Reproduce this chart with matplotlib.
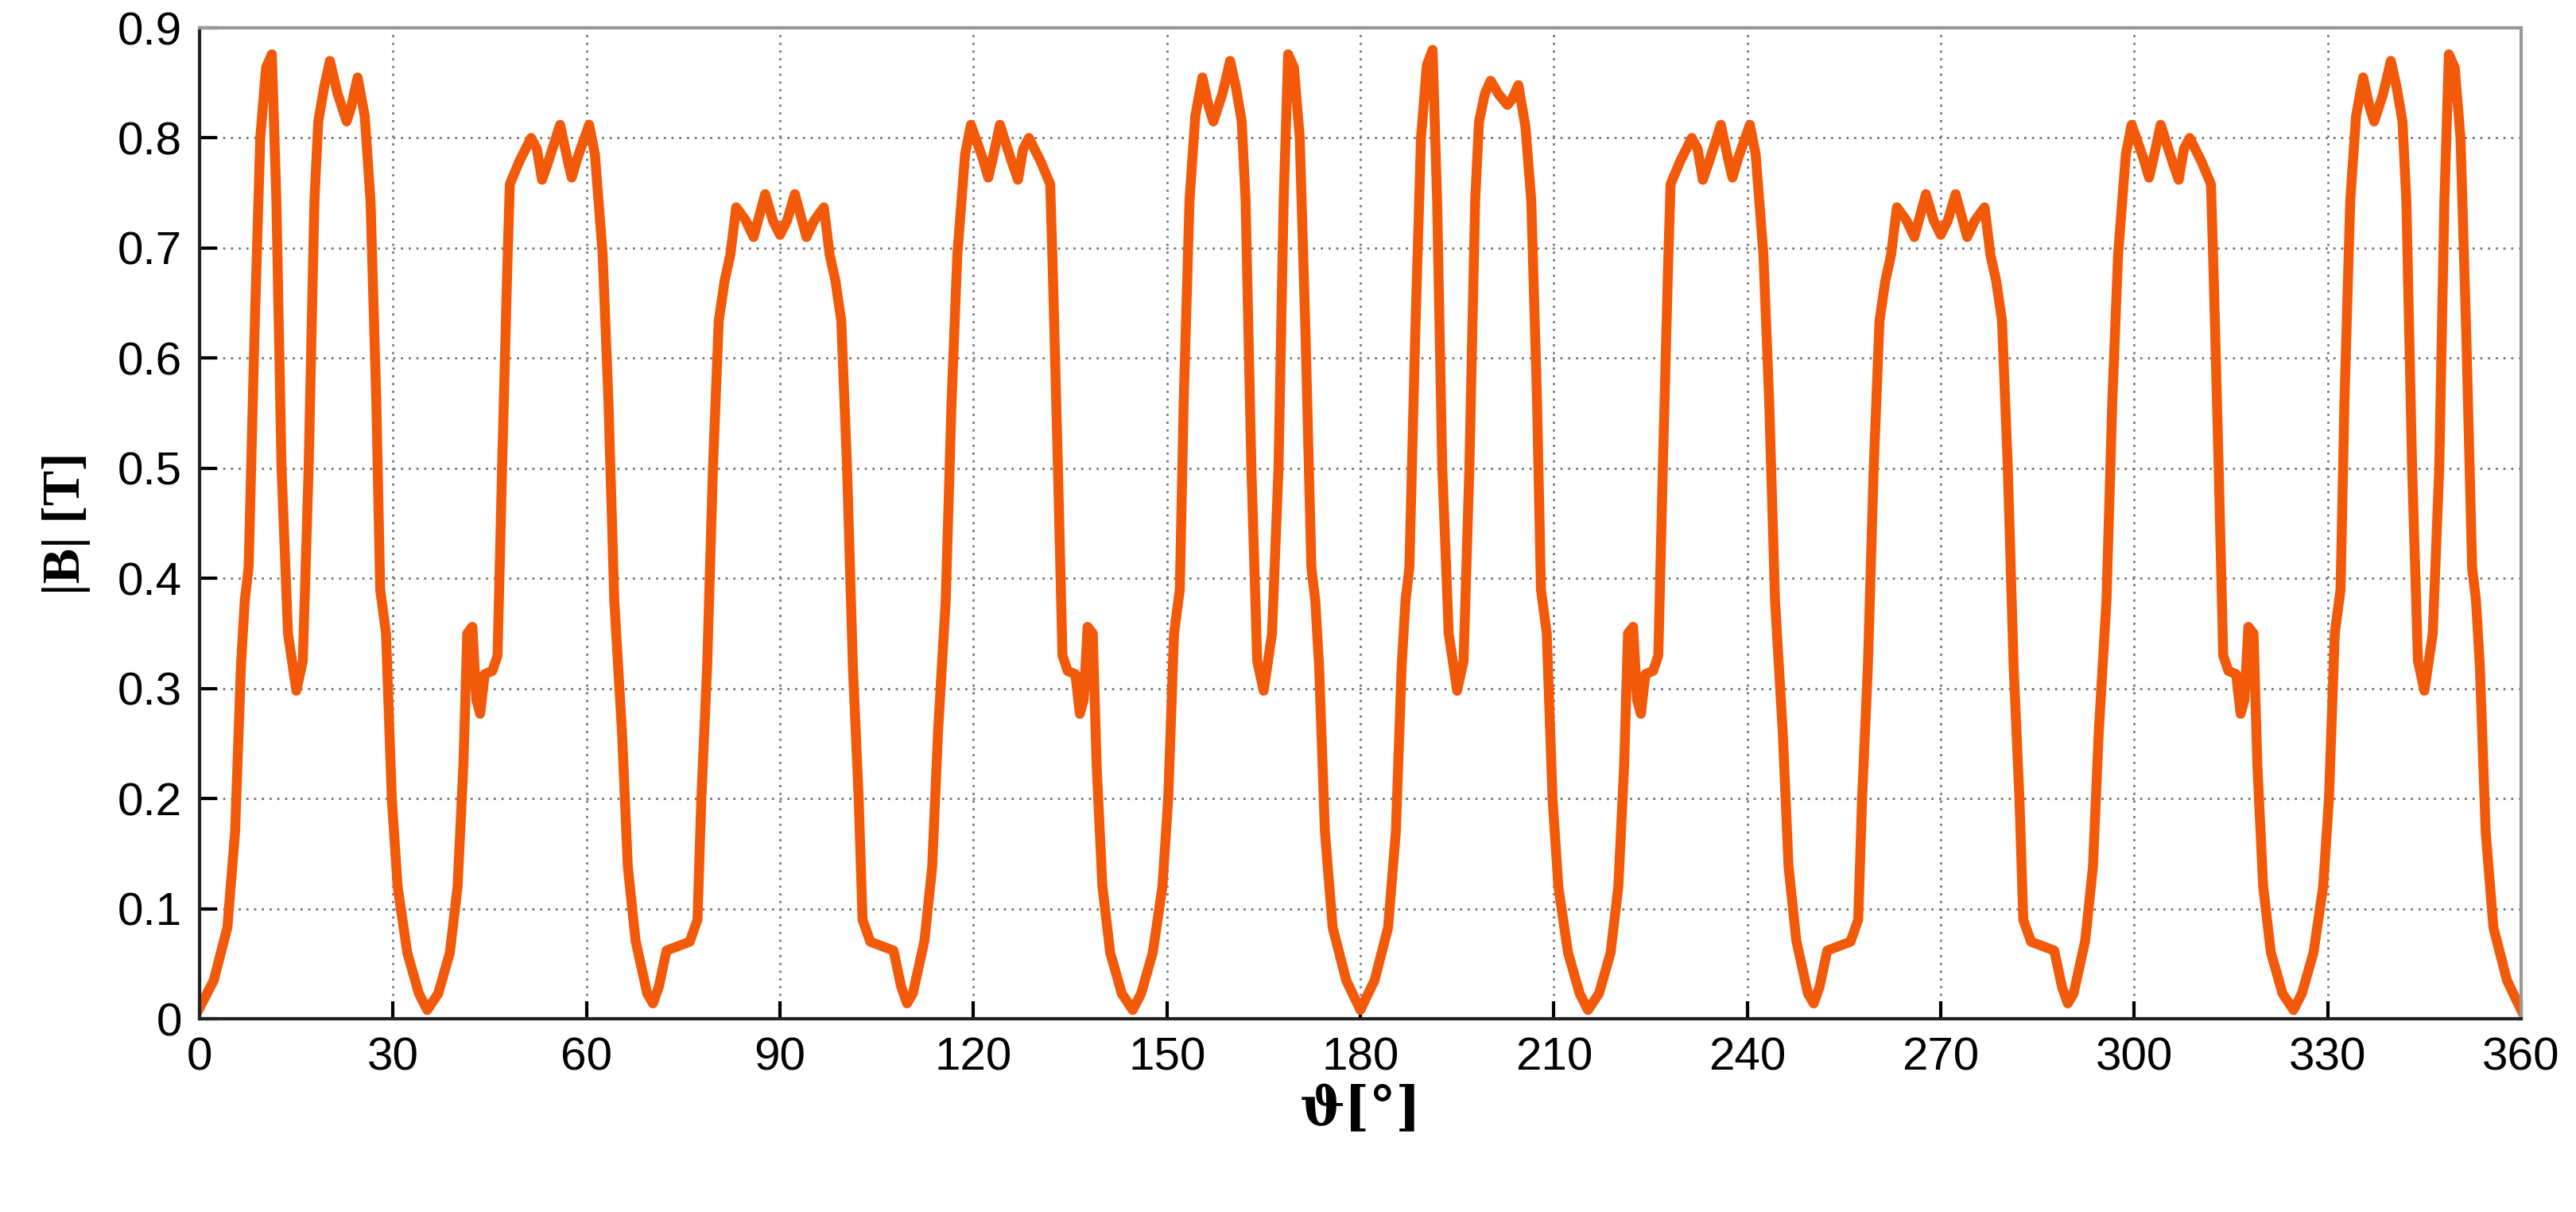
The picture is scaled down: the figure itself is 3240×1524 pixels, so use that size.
import matplotlib
matplotlib.use("Agg")
import matplotlib.pyplot as plt

theta_a = [0, 2.2, 4.3, 5.5, 6.4, 7.0, 7.6, 8.5, 9.4, 10.3, 11.2, 11.9, 12.7, 13.7, 15.0, 16.0, 16.9, 17.8, 18.4, 19.3, 20.2, 21.4, 22.8, 23.5, 24.5, 25.6, 26.5, 27.4, 28.0, 28.9, 29.8, 30.7, 32.2, 34.0, 35.3, 37.0, 38.8, 40.0, 40.9, 41.5, 42.3, 42.9, 43.5, 44.2, 45.4, 46.2, 46.9, 47.7, 48.1, 49.6, 51.4, 52.3, 53.1, 54.1, 55.9, 57.1, 57.7, 58.6, 60.4, 61.3, 62.5, 63.4, 64.3, 65.5, 66.4, 67.6, 69.4, 70.3, 71.2, 72.4, 74.2, 76.0, 77.2, 77.8, 78.7, 79.6, 80.5, 81.4, 82.3, 83.2, 84.7, 85.9, 87.7, 88.9, 90.0,
           91.1, 92.3, 94.1, 95.3, 96.8, 97.7, 98.6, 99.5, 100.4, 101.3, 102.2, 102.8, 104.0, 105.8, 107.6, 108.8, 109.7, 110.6, 112.4, 113.6, 114.5, 115.7, 116.6, 117.5, 118.7, 119.6, 121.4, 122.3, 122.9, 124.1, 125.9, 126.9, 127.7, 128.6, 130.4, 131.9, 132.3, 133.1, 133.8, 134.6, 135.8, 136.5, 137.1, 137.7, 138.5, 139.1, 140.0, 141.2, 143.0, 144.7, 146.0, 147.8, 149.3, 150.2, 151.1, 152.0, 152.6, 153.5, 154.4, 155.5, 156.5, 157.2, 158.6, 159.8, 160.7, 161.6, 162.2, 163.1, 164.0, 165.0, 166.3, 167.3, 168.1, 168.8, 169.7, 170.6, 171.5, 172.4, 173.0, 173.6, 174.5, 175.7, 177.8]
b_a = [0.01, 0.035, 0.083, 0.17, 0.32, 0.38, 0.41, 0.62, 0.80, 0.864, 0.876, 0.743, 0.50, 0.35, 0.298, 0.325, 0.50, 0.743, 0.815, 0.846, 0.87, 0.84, 0.815, 0.828, 0.855, 0.82, 0.743, 0.56, 0.39, 0.35, 0.20, 0.12, 0.06, 0.023, 0.008, 0.023, 0.06, 0.12, 0.23, 0.35, 0.356, 0.29, 0.277, 0.313, 0.316, 0.33, 0.50, 0.68, 0.758, 0.779, 0.80, 0.79, 0.762, 0.779, 0.812, 0.779, 0.764, 0.782, 0.812, 0.785, 0.694, 0.56, 0.38, 0.26, 0.138, 0.071, 0.023, 0.014, 0.029, 0.062, 0.066, 0.07, 0.09, 0.20, 0.32, 0.50, 0.634, 0.67, 0.694, 0.737, 0.725, 0.71, 0.749, 0.725, 0.712,
       0.725, 0.749, 0.71, 0.725, 0.737, 0.694, 0.67, 0.634, 0.50, 0.32, 0.20, 0.09, 0.07, 0.066, 0.062, 0.029, 0.014, 0.023, 0.071, 0.138, 0.26, 0.38, 0.56, 0.694, 0.785, 0.812, 0.782, 0.764, 0.779, 0.812, 0.779, 0.762, 0.79, 0.80, 0.779, 0.758, 0.68, 0.50, 0.33, 0.316, 0.313, 0.277, 0.29, 0.356, 0.35, 0.23, 0.12, 0.06, 0.023, 0.008, 0.023, 0.06, 0.12, 0.20, 0.35, 0.39, 0.56, 0.743, 0.82, 0.855, 0.828, 0.815, 0.84, 0.87, 0.846, 0.815, 0.743, 0.50, 0.325, 0.298, 0.35, 0.50, 0.743, 0.876, 0.864, 0.80, 0.62, 0.41, 0.38, 0.32, 0.17, 0.083, 0.035]
theta_b = [180.0, 182.2, 184.3, 185.5, 186.4, 187.0, 187.6, 188.5, 189.4, 190.3, 191.2, 191.9, 192.7, 193.7, 195.0, 196.0, 196.9, 197.8, 198.4, 199.3, 200.2, 201.4, 202.8, 203.5, 204.5, 205.6, 206.5, 207.4, 208.0, 208.9, 209.8, 210.7, 212.2, 214.0, 215.3, 217.0, 218.8, 220.0, 220.9, 221.5, 222.3, 222.9, 223.5, 224.2, 225.4, 226.2, 226.9, 227.7, 228.1, 229.6, 231.4, 232.3, 233.1, 234.1, 235.9, 237.1, 237.7, 238.6, 240.4, 241.3, 242.5, 243.4, 244.3, 245.5, 246.4, 247.6, 249.4, 250.3, 251.2, 252.4, 254.2, 256.0, 257.2, 257.8, 258.7, 259.6, 260.5, 261.4, 262.3, 263.2, 264.7, 265.9, 267.7, 268.9, 270.0,
           271.1, 272.3, 274.1, 275.3, 276.8, 277.7, 278.6, 279.5, 280.4, 281.3, 282.2, 282.8, 284.0, 285.8, 287.6, 288.8, 289.7, 290.6, 292.4, 293.6, 294.5, 295.7, 296.6, 297.5, 298.7, 299.6, 301.4, 302.3, 302.9, 304.1, 305.9, 306.9, 307.7, 308.6, 310.4, 311.9, 312.3, 313.1, 313.8, 314.6, 315.8, 316.5, 317.1, 317.7, 318.5, 319.1, 320.0, 321.2, 323.0, 324.7, 326.0, 327.8, 329.3, 330.2, 331.1, 332.0, 332.6, 333.5, 334.4, 335.5, 336.5, 337.2, 338.6, 339.8, 340.7, 341.6, 342.2, 343.1, 344.0, 345.0, 346.3, 347.3, 348.1, 348.8, 349.7, 350.6, 351.5, 352.4, 353.0, 353.6, 354.5, 355.7, 357.8, 360.0]
b_b = [0.008, 0.035, 0.083, 0.17, 0.32, 0.38, 0.41, 0.62, 0.80, 0.866, 0.88, 0.743, 0.50, 0.35, 0.298, 0.325, 0.50, 0.743, 0.815, 0.84, 0.852, 0.84, 0.83, 0.835, 0.848, 0.81, 0.743, 0.56, 0.39, 0.35, 0.20, 0.12, 0.06, 0.023, 0.008, 0.023, 0.06, 0.12, 0.23, 0.35, 0.356, 0.29, 0.277, 0.313, 0.316, 0.33, 0.50, 0.68, 0.758, 0.779, 0.80, 0.79, 0.762, 0.779, 0.812, 0.779, 0.764, 0.782, 0.812, 0.785, 0.694, 0.56, 0.38, 0.26, 0.138, 0.071, 0.023, 0.014, 0.029, 0.062, 0.066, 0.07, 0.09, 0.20, 0.32, 0.50, 0.634, 0.67, 0.694, 0.737, 0.725, 0.71, 0.749, 0.725, 0.712,
       0.725, 0.749, 0.71, 0.725, 0.737, 0.694, 0.67, 0.634, 0.50, 0.32, 0.20, 0.09, 0.07, 0.066, 0.062, 0.029, 0.014, 0.023, 0.071, 0.138, 0.26, 0.38, 0.56, 0.694, 0.785, 0.812, 0.782, 0.764, 0.779, 0.812, 0.779, 0.762, 0.79, 0.80, 0.779, 0.758, 0.68, 0.50, 0.33, 0.316, 0.313, 0.277, 0.29, 0.356, 0.35, 0.23, 0.12, 0.06, 0.023, 0.008, 0.023, 0.06, 0.12, 0.20, 0.35, 0.39, 0.56, 0.743, 0.82, 0.855, 0.828, 0.815, 0.84, 0.87, 0.846, 0.815, 0.743, 0.50, 0.325, 0.298, 0.35, 0.50, 0.743, 0.876, 0.864, 0.80, 0.62, 0.41, 0.38, 0.32, 0.17, 0.083, 0.035, 0.008]

theta = theta_a + theta_b
b_mag = b_a + b_b

x_ticks = list(range(0, 361, 30))
y_ticks = [0, 0.1, 0.2, 0.3, 0.4, 0.5, 0.6, 0.7, 0.8, 0.9]
y_labels = ["0", "0.1", "0.2", "0.3", "0.4", "0.5", "0.6", "0.7", "0.8", "0.9"]

fig = plt.figure(figsize=(16.2, 7.62), dpi=200)
ax = fig.add_axes([0.0775, 0.1594, 0.9012, 0.8176])
ax.plot(theta, b_mag, color="#F25A0A", lw=4.5, solid_joinstyle="round")
ax.set_xlim(0, 360)
ax.set_ylim(0, 0.9)
ax.set_xticks(x_ticks)
ax.set_yticks(y_ticks)
ax.set_yticklabels(y_labels)
ax.grid(True, linestyle=(0, (1, 2.5)), color="#777777", lw=1.0)
ax.tick_params(direction="in", length=8, width=1.5, labelsize=21, pad=8, top=False, right=False)
for lab in ax.get_xticklabels() + ax.get_yticklabels():
    lab.set_family("Liberation Sans")
for s in ax.spines.values():
    s.set_linewidth(1.5)
    s.set_color("#222222")
ax.spines["top"].set_color("#999999")
ax.spines["right"].set_color("#999999")
ax.set_xlabel("ϑ[°]", fontsize=24, fontweight="bold", family="DejaVu Serif", labelpad=2)
ax.set_ylabel("|B| [T]", fontsize=24, fontweight="bold", family="Liberation Serif", labelpad=12)
fig.savefig("out.png", dpi=200)
